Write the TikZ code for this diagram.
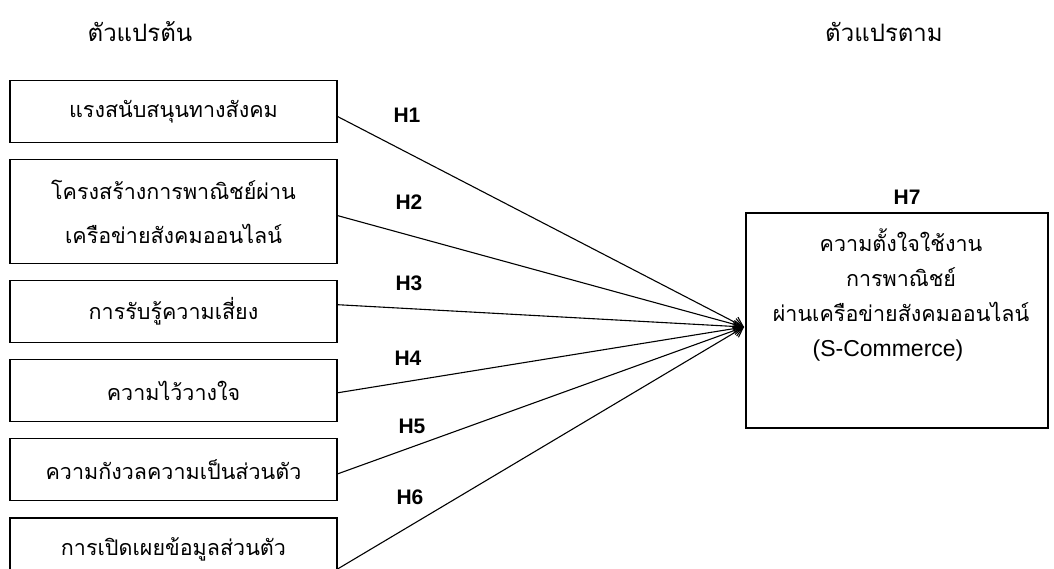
\documentclass[tikz,border=0pt]{standalone}
\usepackage{fontspec}
\setmainfont[Script=Thai]{Loma}
\newfontfamily\latinfont{Liberation Sans}
\usetikzlibrary{positioning,arrows.meta}

\begin{document}
\begin{tikzpicture}[x=1pt,y=-1pt,font=\fontsize{21.5}{26}\selectfont,
  headtext/.style={font=\fontsize{24}{28}\selectfont},
  ivbox/.style={draw,line width=1.1pt,minimum width=327pt,minimum height=62pt,
    inner sep=0pt,align=center},
  dvbox/.style={draw,line width=1.1pt,minimum width=302pt,minimum height=215pt,
    inner sep=0pt},
  dvtext/.style={align=center,inner sep=0pt,font=\fontsize{21.5}{35}\selectfont},
  hlabel/.style={font=\latinfont\fontsize{21}{24}\selectfont\bfseries},
  link/.style={line width=1.1pt,-{Straight Barb[length=9pt,width=12pt]}}]

  \useasboundingbox (0,0) rectangle (1054,569);

  % column headings
  \node[headtext] (ivhead) at (140,32) {ตัวแปรต้น};
  \node[headtext] (dvhead) at (884,32) {ตัวแปรตาม};

  % independent variables
  \node[ivbox] (iv1) at (173.5,111.5) {แรงสนับสนุนทางสังคม};
  \node[ivbox,minimum height=104pt,below=16pt of iv1,
    font=\fontsize{21.5}{44}\selectfont] (iv2)
    {โครงสร้างการพาณิชย์ผ่าน\\เครือข่ายสังคมออนไลน์};
  \node[ivbox,below=16pt of iv2] (iv3) {การรับรู้ความเสี่ยง};
  \node[ivbox,below=16pt of iv3] (iv4) {ความไว้วางใจ};
  \node[ivbox,below=16pt of iv4] (iv5) {ความกังวลความเป็นส่วนตัว};
  \node[ivbox,below=16pt of iv5] (iv6) {การเปิดเผยข้อมูลส่วนตัว};

  % dependent variable
  \node[dvbox] (dv) at (897,320.5) {};
  \node[dvtext] (dvtext) at (901,295)
    {ความตั้งใจใช้งาน\\การพาณิชย์\\ผ่านเครือข่ายสังคมออนไลน์\\{\latinfont\fontsize{23}{35}\selectfont (S-Commerce)\kern26pt}};
  \coordinate (hub) at (744,327);

  % hypotheses
  \draw[link] ([yshift=-5pt]iv1.east) -- (hub);
  \draw[link] ([yshift=-4pt]iv2.east) -- (hub);
  \draw[link] ([yshift=7pt]iv3.east) -- (hub);
  \draw[link] ([yshift=-2pt]iv4.east) -- (hub);
  \draw[link] ([yshift=-4pt]iv5.east) -- (hub);
  \draw[link] ([yshift=-20pt]iv6.east) -- (hub);

  \node[hlabel] (h1) at (407,115) {H1};
  \node[hlabel] (h2) at (409,202) {H2};
  \node[hlabel] (h3) at (409,283) {H3};
  \node[hlabel] (h4) at (408,358) {H4};
  \node[hlabel] (h5) at (412,426) {H5};
  \node[hlabel] (h6) at (410,497) {H6};
  \node[hlabel] (h7) at (907,197) {H7};

\end{tikzpicture}
\end{document}
